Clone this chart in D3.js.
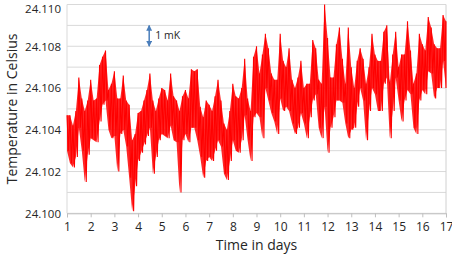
<!DOCTYPE html>
<html><head><meta charset="utf-8">
<script src="https://cdn.jsdelivr.net/npm/d3@7"></script>
<style>
body{margin:0;background:#fff;}
svg{display:block;font-family:"Open Sans",sans-serif;}
</style></head>
<body><svg id="c" width="452" height="256"></svg>
<script>
// day samples: 1 + i*0.125, i = 0..128
const dayStart = 1, dayStep = 0.125;
// upper envelope of temperature (Celsius) per sample
const tempHigh = [
24.1047,24.1047,24.1042,24.1049,24.1065,24.1055,24.1049,24.1054,24.1064,24.1054,
24.1055,24.1071,24.1075,24.1078,24.1059,24.1062,24.1068,24.1055,24.1055,24.1066,
24.1054,24.1052,24.1035,24.1038,24.1048,24.1049,24.1054,24.1059,24.1067,24.1054,
24.1049,24.1055,24.1060,24.1059,24.1054,24.1067,24.1056,24.1054,24.1049,24.1056,
24.1059,24.1055,24.1069,24.1068,24.1069,24.1051,24.1046,24.1054,24.1052,24.1049,
24.1056,24.1064,24.1054,24.1043,24.1040,24.1049,24.1062,24.1056,24.1055,24.1060,
24.1074,24.1055,24.1049,24.1075,24.1080,24.1067,24.1076,24.1086,24.1079,24.1067,
24.1064,24.1064,24.1086,24.1073,24.1070,24.1079,24.1064,24.1060,24.1065,24.1073,
24.1060,24.1062,24.1062,24.1083,24.1079,24.1064,24.1062,24.1100,24.1084,24.1065,
24.1065,24.1081,24.1089,24.1074,24.1062,24.1089,24.1070,24.1060,24.1073,24.1079,
24.1074,24.1062,24.1070,24.1086,24.1076,24.1073,24.1073,24.1087,24.1090,24.1062,
24.1076,24.1087,24.1070,24.1076,24.1076,24.1092,24.1078,24.1062,24.1067,24.1086,
24.1081,24.1078,24.1094,24.1089,24.1081,24.1079,24.1079,24.1095,24.1092];
// lower envelope of temperature (Celsius) per sample
const tempLow = [
24.1030,24.1024,24.1022,24.1027,24.1041,24.1030,24.1015,24.1028,24.1036,24.1035,
24.1034,24.1044,24.1052,24.1054,24.1040,24.1036,24.1037,24.1020,24.1038,24.1040,
24.1032,24.1017,24.1001,24.1013,24.1025,24.1029,24.1033,24.1037,24.1041,24.1019,
24.1027,24.1035,24.1038,24.1037,24.1036,24.1042,24.1035,24.1034,24.1010,24.1035,
24.1038,24.1034,24.1041,24.1041,24.1035,24.1027,24.1017,24.1025,24.1027,24.1025,
24.1030,24.1035,24.1032,24.1019,24.1016,24.1025,24.1035,24.1030,24.1029,24.1035,
24.1047,24.1035,24.1025,24.1046,24.1048,24.1046,24.1036,24.1060,24.1054,24.1048,
24.1044,24.1038,24.1055,24.1049,24.1051,24.1049,24.1043,24.1038,24.1041,24.1048,
24.1043,24.1036,24.1046,24.1054,24.1057,24.1041,24.1036,24.1051,24.1029,24.1041,
24.1046,24.1054,24.1054,24.1053,24.1043,24.1036,24.1040,24.1041,24.1051,24.1060,
24.1054,24.1035,24.1049,24.1060,24.1057,24.1049,24.1049,24.1062,24.1065,24.1036,
24.1049,24.1065,24.1054,24.1044,24.1054,24.1059,24.1057,24.1041,24.1038,24.1054,
24.1059,24.1057,24.1068,24.1067,24.1055,24.1060,24.1060,24.1073,24.1060];
const xTicks = d3.range(1, 18);
const yGrid = [24.100,24.101,24.102,24.103,24.104,24.105,24.106,24.107,24.108,24.109,24.110];
const yLabels = [24.100,24.102,24.104,24.106,24.108,24.110];
const xTitle = "Time in days", yTitle = "Temperature in Celsius", noteText = "1 mK";
const noteSpan = [24.109, 24.108], noteDay = 4.47;

const svg = d3.select("#c");
const m = {l:67, r:446, t:4.5, b:213.3};
const x = d3.scaleLinear().domain([1,17]).range([m.l, m.r]);
const y = d3.scaleLinear().domain([24.100,24.110]).range([m.b, m.t]);

// gridlines
svg.append("g").selectAll("line").data(yGrid).join("line")
  .attr("x1", m.l).attr("x2", m.r)
  .attr("y1", d=>y(d)).attr("y2", d=>y(d))
  .attr("stroke", "#d9d9d9").attr("stroke-width", 1);
// borders
svg.append("line").attr("x1", m.l).attr("x2", m.l).attr("y1", m.t).attr("y2", m.b)
  .attr("stroke", "#d9d9d9");
svg.append("line").attr("x1", m.r).attr("x2", m.r).attr("y1", m.t).attr("y2", m.b)
  .attr("stroke", "#d0d0d0");

// data
const samples = tempHigh.map((h,i)=>({t: dayStart + i*dayStep, hi: h, lo: tempLow[i]}));
const zig = [];
samples.forEach((s,i)=>{
  zig.push([s.t, s.hi]);
  if (i < samples.length-1) zig.push([s.t + dayStep/2, s.lo]);
  else zig.push([s.t, s.lo]);
});
svg.append("path").datum(samples)
  .attr("d", d3.area().x(d=>x(d.t)).y0(d=>y(d.lo)).y1(d=>y(d.hi)))
  .attr("fill", "#ff0000").attr("fill-opacity", 0.85);
svg.append("path").datum(zig)
  .attr("d", d3.line().x(d=>x(d[0])).y(d=>y(d[1])))
  .attr("fill", "none").attr("stroke", "#ff0000").attr("stroke-width", 1.1);

// x axis
const xAxis = svg.append("g").attr("transform", `translate(0,${m.b})`)
  .call(d3.axisBottom(x).tickValues(xTicks).tickFormat(d3.format("d")).tickSize(4).tickPadding(5));
xAxis.select(".domain").attr("stroke", "#bfbfbf");
xAxis.selectAll(".tick line").attr("stroke", "#bfbfbf");
xAxis.selectAll("text").attr("font-size", 12).attr("fill", "#262626")
  .attr("font-family", "Open Sans, sans-serif");

// y labels (baseline kept inside the canvas for the top one)
svg.append("g").selectAll("text").data(yLabels).join("text")
  .attr("x", 61).attr("y", d=>Math.max(y(d) + 4.4, 12.6))
  .attr("text-anchor", "end").attr("font-size", 11.5).attr("fill", "#262626")
  .text(d=>d3.format(".3f")(d));

// titles
svg.append("text").attr("x", (m.l+m.r)/2).attr("y", 250)
  .attr("text-anchor", "middle").attr("font-size", 14).attr("fill", "#262626").text(xTitle);
svg.append("text").attr("transform", `translate(17,${(m.t+m.b)/2}) rotate(-90)`)
  .attr("text-anchor", "middle").attr("font-size", 14).attr("fill", "#262626").text(yTitle);

// annotation
const defs = svg.append("defs");
defs.append("marker").attr("id","ah").attr("viewBox","0 0 10 10").attr("refX",9).attr("refY",5)
  .attr("markerWidth",4).attr("markerHeight",4).attr("orient","auto-start-reverse")
  .append("path").attr("d","M0,0L10,5L0,10z").attr("fill","#4a7ebb");
svg.append("line").attr("x1", x(noteDay)).attr("x2", x(noteDay))
  .attr("y1", y(noteSpan[0])).attr("y2", y(noteSpan[1]))
  .attr("stroke", "#4a7ebb").attr("stroke-width", 1.5)
  .attr("marker-start","url(#ah)").attr("marker-end","url(#ah)");
svg.append("text").attr("x", x(noteDay)+6).attr("y", (y(noteSpan[0])+y(noteSpan[1]))/2)
  .attr("dy","0.35em").attr("font-size", 10.5).attr("fill", "#262626").text(noteText);
</script></body></html>
